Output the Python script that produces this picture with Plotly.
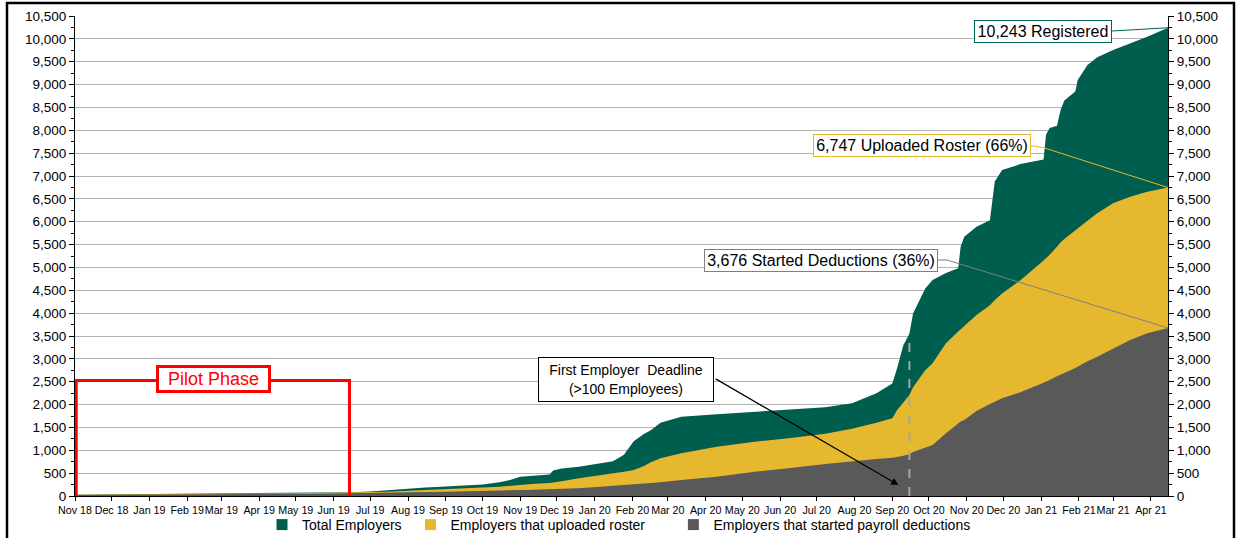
import plotly.graph_objects as go

# ---------------- data ----------------
dates = [
    "2018-11-01", "2018-12-01", "2019-01-01", "2019-02-01", "2019-03-01", "2019-04-01",
    "2019-05-01", "2019-06-01", "2019-06-15", "2019-07-01", "2019-07-15", "2019-08-01",
    "2019-08-15", "2019-09-01", "2019-09-15", "2019-10-01", "2019-10-15", "2019-10-25",
    "2019-11-01", "2019-11-10", "2019-11-25", "2019-11-28", "2019-12-05", "2019-12-19",
    "2020-01-03", "2020-01-16", "2020-01-25", "2020-02-02", "2020-02-10", "2020-02-16",
    "2020-02-24", "2020-03-12", "2020-04-10", "2020-05-11", "2020-06-08", "2020-07-08",
    "2020-07-30", "2020-08-19", "2020-09-01", "2020-09-05", "2020-09-10", "2020-09-15",
    "2020-09-18", "2020-09-22", "2020-09-28", "2020-10-04", "2020-10-15", "2020-10-25",
    "2020-10-27", "2020-10-30", "2020-11-09", "2020-11-20", "2020-11-22", "2020-11-24",
    "2020-11-30", "2020-12-15", "2021-01-03", "2021-01-05", "2021-01-08", "2021-01-14",
    "2021-01-17", "2021-01-20", "2021-01-29", "2021-01-31", "2021-02-08", "2021-02-16",
    "2021-03-01", "2021-03-15", "2021-03-29", "2021-04-15",
]
total_employers = [
    30, 35, 45, 50, 52, 60,
    70, 78, 82, 100, 130, 165,
    185, 210, 225, 250, 300, 360,
    420, 440, 470, 560, 600, 640,
    700, 760, 900, 1200, 1350, 1440,
    1600, 1735, 1790, 1840, 1880, 1940,
    2030, 2246, 2460, 2800, 3300, 3550,
    3990, 4215, 4540, 4725, 4880, 4980,
    5450, 5670, 5890, 6030, 6500, 6880,
    7131, 7260, 7360, 7900, 8050, 8100,
    8450, 8650, 8850, 9100, 9430, 9596,
    9756, 9900, 10047, 10243,
]
uploaded_roster = [
    25, 28, 40, 45, 47, 55,
    62, 70, 73, 82, 95, 115,
    130, 150, 160, 180, 205, 225,
    245, 260, 285, 300, 320, 387,
    440, 496, 530, 569, 650, 740,
    824, 934, 1079, 1188, 1261, 1360,
    1470, 1600, 1700, 1880, 2050, 2209,
    2380, 2537, 2750, 2902, 3340, 3600,
    3650, 3704, 3960, 4170, 4230, 4288,
    4430, 4720, 5150, 5199, 5280, 5450,
    5550, 5620, 5800, 5840, 6020, 6183,
    6402, 6548, 6657, 6747,
]
started_deductions = [
    20, 22, 25, 28, 30, 40,
    48, 55, 58, 62, 68, 78,
    85, 95, 100, 108, 118, 125,
    132, 138, 145, 150, 155, 168,
    195, 219, 240, 260, 270, 280,
    300, 350, 423, 532, 605, 700,
    765, 810, 835, 850, 880, 915,
    960, 1000, 1060, 1116, 1371, 1580,
    1630, 1663, 1860, 2010, 2030, 2063,
    2140, 2270, 2480, 2501, 2540, 2620,
    2660, 2690, 2800, 2830, 2950, 3047,
    3230, 3412, 3558, 3676,
]

series_names = ["Total Employers", "Employers that uploaded roster",
                "Employers that started payroll deductions"]

pilot_dates = ["2018-11-02", "2018-11-02", "2019-06-14", "2019-06-14"]
pilot_levels = [0, 2525, 2525, 0]

deadline_date = "2020-09-15"
arrow_head = ("2020-09-06", 240)
arrow_tail = ("2020-04-08", 2581)

# ---------------- styling ----------------
GREEN = "#005E4F"
YELLOW = "#E6B830"
GRAY = "#595959"
FONT = "Liberation Sans, Arial, sans-serif"
YMAX = 10500

# plot area in pixels (for placing annotation boxes)
L, R, T, B = 75, 1168, 16, 496
W, H = 1238, 538


def px(x):
    return (x - L) / (R - L)


def py(y):
    return (B - y) / (B - T)


fig = go.Figure()
for vals, name, col in zip([total_employers, uploaded_roster, started_deductions],
                           series_names, [GREEN, YELLOW, GRAY]):
    fig.add_trace(go.Scatter(
        x=dates, y=vals, name=name, mode="lines",
        line=dict(width=0, color=col), fill="tozeroy", fillcolor=col,
        hoverinfo="skip", showlegend=False,
    ))

# legend entries with square swatches (extra spacing to match the reference gaps)
legend_labels = [series_names[0] + "\u00a0", series_names[1] + "\u00a0" * 6, series_names[2]]
for name, col in zip(legend_labels, [GREEN, YELLOW, GRAY]):
    fig.add_trace(go.Scatter(
        x=[None], y=[None], name=name, mode="markers",
        marker=dict(symbol="square", size=11, color=col), hoverinfo="skip",
    ))

# invisible trace so the mirrored right axis is drawn
fig.add_trace(go.Scatter(x=[dates[0]], y=[0], yaxis="y2", mode="markers",
                         marker=dict(opacity=0), showlegend=False, hoverinfo="skip"))

# Pilot phase bracket
fig.add_trace(go.Scatter(x=pilot_dates, y=pilot_levels, mode="lines",
                         line=dict(color="#FF0000", width=3), showlegend=False,
                         hoverinfo="skip", cliponaxis=False))

shapes = []
# dashed deadline line
dl_idx = dates.index(deadline_date)
shapes.append(dict(type="line", xref="x", yref="y", x0=deadline_date, x1=deadline_date,
                   y0=0, y1=total_employers[dl_idx],
                   line=dict(color="#A6A6A6", width=2, dash="dash")))


# leader lines (paper coordinates), ending at the last data value on the right edge
def leader(points_px, end_val, color):
    pts = [(px(x), py(y)) for x, y in points_px] + [(1.0, end_val / YMAX)]
    for (x0, y0), (x1, y1) in zip(pts[:-1], pts[1:]):
        shapes.append(dict(type="line", xref="paper", yref="paper",
                           x0=x0, y0=y0, x1=x1, y1=y1,
                           line=dict(color=color, width=1)))


leader([(1112, 31)], total_employers[-1], "#00655A")
leader([(1031, 145.5), (1043, 147.5)], uploaded_roster[-1], "#E5B82E")
leader([(938, 260), (947, 260)], started_deductions[-1], "#7F7F7F")

# outer frame
shapes.append(dict(type="rect", xref="paper", yref="paper",
                   x0=px(7), x1=px(1234), y0=py(560), y1=py(3),
                   line=dict(color="black", width=2.5), fillcolor="rgba(0,0,0,0)",
                   layer="above"))


def box(text, cx, cy, size, color, border, bw, w, h):
    return dict(text=text, x=px(cx), y=py(cy), xref="paper", yref="paper",
                xanchor="center", yanchor="middle", showarrow=False,
                font=dict(size=size, color=color, family=FONT),
                bgcolor="white", bordercolor=border, borderwidth=bw, borderpad=1,
                width=w, height=h)


annotations = [
    box("10,243 Registered", 1043, 31.4, 16, "black", "#00655A", 1, 134, 19),
    box("6,747 Uploaded Roster (66%)", 922, 145.5, 16, "black", "#E5B82E", 1, 214, 19),
    box("3,676 Started Deductions (36%)", 821, 260, 16, "black", "#7F7F7F", 1, 230, 19),
    box("First Employer  Deadline<br>(>100 Employees)", 626, 379.5, 14, "black",
        "black", 1, 172, 41),
    box("Pilot Phase", 213.4, 379, 18, "#FF0000", "#FF0000", 3, 107, 20),
    dict(text="", x=arrow_head[0], y=arrow_head[1], xref="x", yref="y",
         ax=arrow_tail[0], ay=arrow_tail[1], axref="x", ayref="y",
         showarrow=True, arrowhead=2, arrowsize=1.2, arrowwidth=1.2, arrowcolor="black"),
]

yaxis_common = dict(
    range=[0, YMAX], dtick=500, tick0=0, tickformat=",",
    showline=True, linecolor="black", linewidth=1,
    ticks="outside", ticklen=5, tickcolor="black",
    minor=dict(dtick=250, ticks="outside", ticklen=3, tickcolor="black", showgrid=False),
    tickfont=dict(size=13.5, color="black", family=FONT),
    zeroline=False, fixedrange=True,
)

fig.update_layout(
    width=W, height=H,
    margin=dict(l=L, r=W - R, t=T, b=H - B, autoexpand=False),
    paper_bgcolor="white", plot_bgcolor="white",
    font=dict(family=FONT, color="black"),
    hovermode=False,
    showlegend=True,
    legend=dict(orientation="h", x=px(262), xanchor="left", y=py(509), yanchor="top",
                font=dict(size=14, color="black", family=FONT),
                bgcolor="rgba(0,0,0,0)", itemclick=False, itemdoubleclick=False),
    xaxis=dict(
        type="date", range=["2018-11-01", "2021-04-15"],
        dtick="M1", tick0="2018-11-01", tickformat="%b %y", tickangle=0,
        showline=True, linecolor="black", linewidth=1,
        ticks="outside", ticklen=4, tickcolor="black",
        tickfont=dict(size=10.7, color="black", family=FONT),
        showgrid=False, zeroline=False, fixedrange=True,
    ),
    yaxis=dict(**yaxis_common, showgrid=True, gridcolor="#B4B4B4", gridwidth=1),
    yaxis2=dict(**yaxis_common, overlaying="y", side="right", showgrid=False),
    shapes=shapes,
    annotations=annotations,
)

fig.write_html("out.html", config={"displayModeBar": False},
               post_script="document.body.style.margin='0';")
